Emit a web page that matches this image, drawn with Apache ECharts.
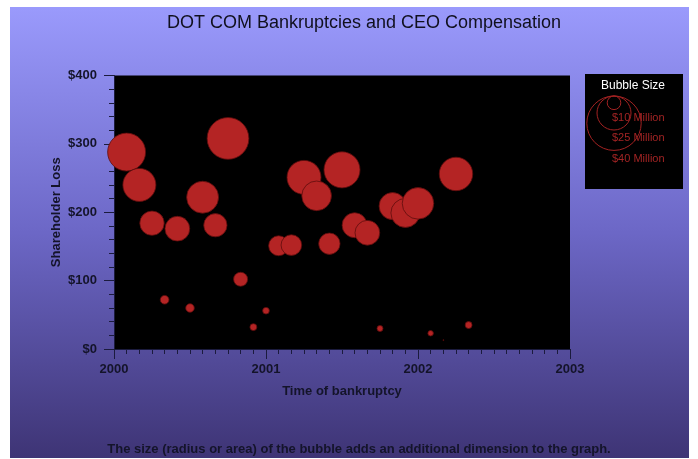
<!DOCTYPE html>
<html>
<head>
<meta charset="utf-8">
<script src="https://cdn.jsdelivr.net/npm/echarts@6/dist/echarts.min.js"></script>
<style>
html,body{margin:0;padding:0;background:#fff;}
#c{width:698px;height:459px;}
</style>
</head>
<body>
<div id="c"></div>
<script>
// Date of bankruptcy as decimal years (one per month, Feb 2000 .. May 2002)
var dates = [2000.083, 2000.167, 2000.25, 2000.333, 2000.417, 2000.5, 2000.583, 2000.667, 2000.75, 2000.833, 2000.917,
             2001.0, 2001.083, 2001.167, 2001.25, 2001.333, 2001.417, 2001.5, 2001.583, 2001.667, 2001.75, 2001.833, 2001.917,
             2002.0, 2002.083, 2002.167, 2002.25, 2002.333];
// Shareholder loss ($ millions)
var losses = [288, 240, 184, 72, 176, 60, 222, 181, 308, 102, 32,
              56, 151, 152, 251, 224, 154, 262, 181, 170, 30, 209, 199,
              213, 23, 13, 256, 35];
// CEO compensation ($ millions) -> bubble size
var compensation = [27.9, 24.3, 17.9, 6.4, 18.2, 6.3, 23.5, 17.1, 30.7, 10.3, 5.1,
                    4.9, 14.7, 15.2, 25.0, 21.8, 15.7, 26.5, 18.4, 18.2, 4.4, 19.9, 21.3,
                    23.2, 4.0, 0.7, 24.6, 5.1];
var legendSizes = [10, 25, 40];
var legendLabels = ['$10 Million', '$25 Million', '$40 Million'];
var xTicks = [2000, 2001, 2002, 2003];
var yTicks = [0, 100, 200, 300, 400];

var PX_PER_MILLION = 1.36; // bubble diameter per $1M
var FONT = 'Liberation Sans, Arial, sans-serif';
var AXIS_COLOR = '#1b1b3d';
var TEXT_COLOR = '#14142a';

var data = dates.map(function (d, i) { return [d, losses[i], compensation[i]]; });

var chart = echarts.init(document.getElementById('c'), null, {renderer: 'canvas'});

var graphics = [
  {
    type: 'rect', z: -10, silent: true,
    shape: {x: 10, y: 7, width: 679, height: 451},
    style: {
      fill: new echarts.graphic.LinearGradient(0, 0, 0, 1, [
        {offset: 0, color: '#9a9afc'},
        {offset: 0.5, color: '#6c67c6'},
        {offset: 1, color: '#3e3475'}
      ])
    }
  },
  {
    type: 'rect', z: 5, silent: true,
    shape: {x: 585, y: 74, width: 98, height: 115},
    style: {fill: '#000'}
  },
  {
    type: 'text', z: 7, silent: true,
    x: 633, y: 86,
    style: {text: 'Bubble Size', fill: '#ffffff', font: '12px ' + FONT, align: 'center', verticalAlign: 'middle'}
  }
];
legendSizes.forEach(function (s, i) {
  var r = s * PX_PER_MILLION / 2;
  graphics.push({
    type: 'circle', z: 6, silent: true,
    shape: {cx: 614, cy: 96 + r, r: r},
    style: {fill: 'none', stroke: '#a32222', lineWidth: 1}
  });
  graphics.push({
    type: 'text', z: 7, silent: true,
    x: 612, y: 117.5 + i * 20.5,
    style: {text: legendLabels[i], fill: '#a32424', font: '11px ' + FONT, align: 'left', verticalAlign: 'middle'}
  });
});
graphics.push({
  type: 'text', z: 7, silent: true,
  x: 359, y: 449,
  style: {text: 'The size (radius or area) of the bubble adds an additional dimension to the graph.',
          fill: TEXT_COLOR, font: 'bold 13px ' + FONT, align: 'center', verticalAlign: 'middle'}
});

var option = {
  animation: false,
  backgroundColor: '#ffffff',
  title: {
    text: 'DOT COM Bankruptcies and CEO Compensation',
    left: 359, textAlign: 'center', top: 9,
    textStyle: {fontFamily: FONT, fontSize: 18, fontWeight: 'normal', color: '#10101e'}
  },
  grid: {
    left: 114, right: 128, top: 75.5, bottom: 110,
    show: true, backgroundColor: '#000000', borderWidth: 0
  },
  xAxis: {
    type: 'value', min: xTicks[0], max: xTicks[xTicks.length - 1], interval: 1,
    name: 'Time of bankruptcy', nameLocation: 'middle', nameGap: 36,
    nameTextStyle: {fontFamily: FONT, fontSize: 13, fontWeight: 'bold', color: TEXT_COLOR},
    axisLine: {show: true, onZero: false, lineStyle: {color: AXIS_COLOR, width: 1}},
    axisTick: {show: true, length: 10, lineStyle: {color: AXIS_COLOR}},
    minorTick: {show: true, splitNumber: 12, length: 5, lineStyle: {color: AXIS_COLOR}},
    splitLine: {show: false},
    axisLabel: {margin: 14, fontFamily: FONT, fontSize: 13, fontWeight: 'bold', color: TEXT_COLOR,
                formatter: function (v) { return String(Math.round(v)); }}
  },
  yAxis: {
    type: 'value', min: yTicks[0], max: yTicks[yTicks.length - 1], interval: 100,
    name: 'Shareholder Loss', nameLocation: 'middle', nameGap: 51, nameRotate: 90,
    nameMoveOverlap: false,
    nameTextStyle: {fontFamily: FONT, fontSize: 13, fontWeight: 'bold', color: TEXT_COLOR},
    axisLine: {show: true, lineStyle: {color: AXIS_COLOR, width: 1}},
    axisTick: {show: true, length: 10, lineStyle: {color: AXIS_COLOR}},
    minorTick: {show: true, splitNumber: 5, length: 5, lineStyle: {color: AXIS_COLOR}},
    splitLine: {show: false},
    axisLabel: {margin: 17, fontFamily: FONT, fontSize: 13, fontWeight: 'bold', color: TEXT_COLOR,
                formatter: function (v) { return '$' + v; }}
  },
  series: [{
    type: 'scatter',
    data: data,
    clip: true,
    symbol: 'circle',
    symbolSize: function (d) { return d[2] * PX_PER_MILLION; },
    itemStyle: {color: '#b42424', borderColor: '#5e0c0c', borderWidth: 0.8, opacity: 1}
  }],
  graphic: graphics
};
chart.setOption(option);
</script>
</body>
</html>
